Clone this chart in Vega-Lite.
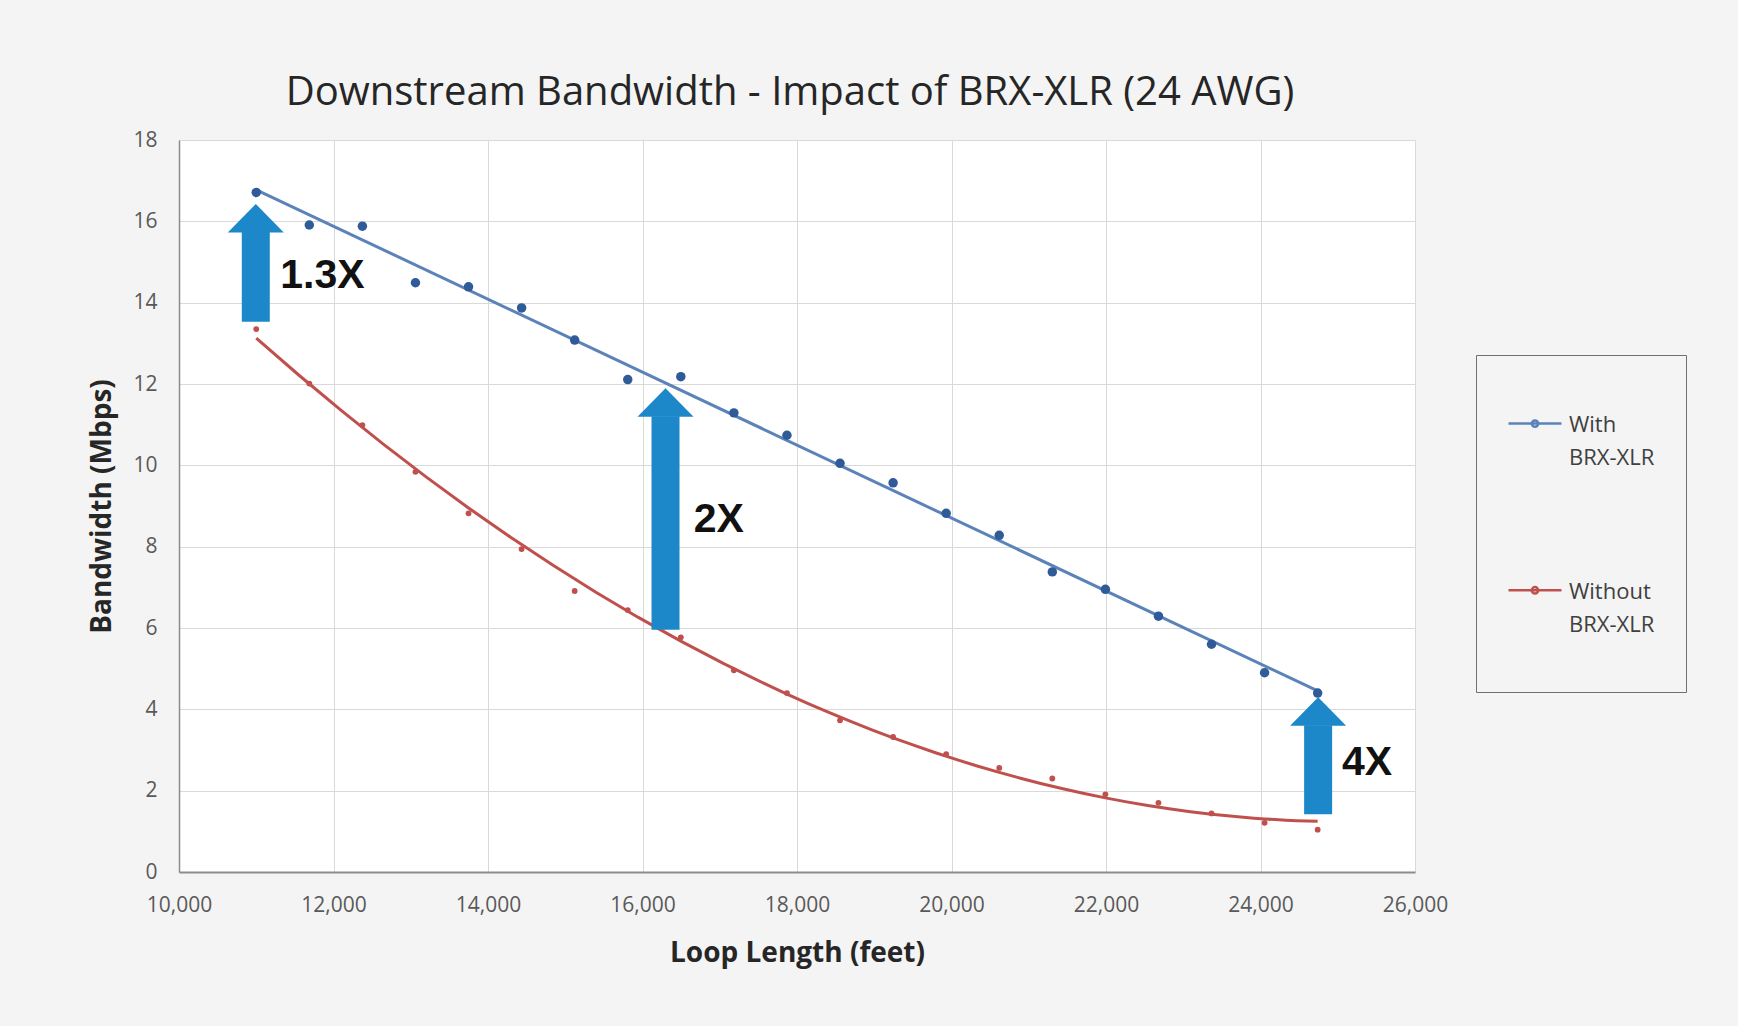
{
  "$schema": "https://vega.github.io/schema/vega-lite/v6.json",
  "width": 1236,
  "height": 732,
  "autosize": {"type": "none"},
  "padding": {"left": 179, "top": 140, "right": 323, "bottom": 154},
  "background": "#f4f4f4",
  "title": {
    "text": "Downstream Bandwidth - Impact of BRX-XLR (24 AWG)",
    "font": "Open Sans",
    "fontSize": 40,
    "fontWeight": "normal",
    "color": "#262626",
    "anchor": "middle",
    "offset": 16,
    "dx": -7
  },
  "config": {
    "view": {"fill": "#ffffff", "stroke": null},
    "font": "Open Sans",
    "axis": {
      "grid": true,
      "gridColor": "#d9d9d9",
      "gridWidth": 1,
      "ticks": false,
      "labelFlush": false,
      "domainColor": "#8c8c8c",
      "labelFont": "Open Sans",
      "labelFontSize": 21,
      "labelColor": "#595959",
      "titleFont": "Open Sans",
      "titleFontSize": 28,
      "titleFontWeight": "bold",
      "titleColor": "#262626"
    },
    "legend": {
      "orient": "none",
      "legendX": 1297,
      "legendY": 215,
      "padding": 31,
      "strokeColor": "#707070",
      "symbolType": "M-1,-0.62H1M0.12,-0.62A0.12,0.12,0,1,1,-0.12,-0.62A0.12,0.12,0,1,1,0.12,-0.62",
      "symbolSize": 2809,
      "symbolStrokeWidth": 2.5,
      "labelFont": "Open Sans",
      "labelFontSize": 22,
      "labelColor": "#404040",
      "labelOffset": 6,
      "labelLimit": 300,
      "clipHeight": 108,
      "rowPadding": 58.7
    }
  },
  "datasets": {
    "points": [
      {"series": "With BRX-XLR", "len": 11000, "bw": 16.71},
      {"series": "With BRX-XLR", "len": 11687, "bw": 15.91},
      {"series": "With BRX-XLR", "len": 12374, "bw": 15.88},
      {"series": "With BRX-XLR", "len": 13061, "bw": 14.49},
      {"series": "With BRX-XLR", "len": 13748, "bw": 14.39},
      {"series": "With BRX-XLR", "len": 14435, "bw": 13.87},
      {"series": "With BRX-XLR", "len": 15122, "bw": 13.08},
      {"series": "With BRX-XLR", "len": 15809, "bw": 12.11},
      {"series": "With BRX-XLR", "len": 16496, "bw": 12.18},
      {"series": "With BRX-XLR", "len": 17183, "bw": 11.29},
      {"series": "With BRX-XLR", "len": 17870, "bw": 10.74},
      {"series": "With BRX-XLR", "len": 18557, "bw": 10.05},
      {"series": "With BRX-XLR", "len": 19244, "bw": 9.57},
      {"series": "With BRX-XLR", "len": 19931, "bw": 8.82},
      {"series": "With BRX-XLR", "len": 20618, "bw": 8.28},
      {"series": "With BRX-XLR", "len": 21305, "bw": 7.38},
      {"series": "With BRX-XLR", "len": 21992, "bw": 6.95},
      {"series": "With BRX-XLR", "len": 22679, "bw": 6.29},
      {"series": "With BRX-XLR", "len": 23366, "bw": 5.6},
      {"series": "With BRX-XLR", "len": 24053, "bw": 4.9},
      {"series": "With BRX-XLR", "len": 24740, "bw": 4.4},
      {"series": "Without BRX-XLR", "len": 11000, "bw": 13.35},
      {"series": "Without BRX-XLR", "len": 11687, "bw": 12.01},
      {"series": "Without BRX-XLR", "len": 12374, "bw": 10.99},
      {"series": "Without BRX-XLR", "len": 13061, "bw": 9.84},
      {"series": "Without BRX-XLR", "len": 13748, "bw": 8.82},
      {"series": "Without BRX-XLR", "len": 14435, "bw": 7.94},
      {"series": "Without BRX-XLR", "len": 15122, "bw": 6.91},
      {"series": "Without BRX-XLR", "len": 15809, "bw": 6.44},
      {"series": "Without BRX-XLR", "len": 16496, "bw": 5.77},
      {"series": "Without BRX-XLR", "len": 17183, "bw": 4.96},
      {"series": "Without BRX-XLR", "len": 17870, "bw": 4.4},
      {"series": "Without BRX-XLR", "len": 18557, "bw": 3.73},
      {"series": "Without BRX-XLR", "len": 19244, "bw": 3.32},
      {"series": "Without BRX-XLR", "len": 19931, "bw": 2.9},
      {"series": "Without BRX-XLR", "len": 20618, "bw": 2.56},
      {"series": "Without BRX-XLR", "len": 21305, "bw": 2.3},
      {"series": "Without BRX-XLR", "len": 21992, "bw": 1.91},
      {"series": "Without BRX-XLR", "len": 22679, "bw": 1.7},
      {"series": "Without BRX-XLR", "len": 23366, "bw": 1.44},
      {"series": "Without BRX-XLR", "len": 24053, "bw": 1.21},
      {"series": "Without BRX-XLR", "len": 24740, "bw": 1.04}
    ],
    "arrows": [
      {"len": 10994, "bw": 15.74, "bw0": 13.53},
      {"len": 16298, "bw": 11.21, "bw0": 5.96},
      {"len": 24746, "bw": 3.61, "bw0": 1.42}
    ],
    "labels": [
      {"len": 11311, "bw": 14.65, "label": "1.3X"},
      {"len": 16664, "bw": 8.65, "label": "2X"},
      {"len": 25055, "bw": 2.67, "label": "4X"}
    ]
  },
  "encoding": {
    "x": {
      "field": "len",
      "type": "quantitative",
      "scale": {"domain": [10000, 26000], "nice": false, "zero": false},
      "axis": {
        "title": "Loop Length (feet)",
        "values": [10000, 12000, 14000, 16000, 18000, 20000, 22000, 24000, 26000],
        "format": ",d",
        "labelPadding": 22,
        "domainWidth": 2,
        "titlePadding": 24
      }
    },
    "y": {
      "field": "bw",
      "type": "quantitative",
      "scale": {"domain": [0, 18], "nice": false},
      "axis": {
        "title": "Bandwidth (Mbps)",
        "values": [0, 2, 4, 6, 8, 10, 12, 14, 16, 18],
        "labelPadding": 22,
        "domainWidth": 1.5,
        "titlePadding": 16
      }
    }
  },
  "layer": [
    {
      "data": {"name": "points"},
      "transform": [
        {"filter": "datum.series == 'With BRX-XLR'"},
        {"regression": "bw", "on": "len", "method": "linear", "groupby": ["series"]}
      ],
      "mark": {"type": "line", "strokeWidth": 3},
      "encoding": {
        "color": {
          "field": "series",
          "type": "nominal",
          "scale": {"domain": ["With BRX-XLR", "Without BRX-XLR"], "range": ["#5b82b9", "#c0504d"]},
          "legend": {
            "title": null,
            "labelExpr": "split(datum.label, ' ')",
            "encode": {"labels": {"update": {"lineHeight": {"value": 33}, "dy": {"value": -15}}}}
          }
        }
      }
    },
    {
      "data": {"name": "points"},
      "transform": [
        {"filter": "datum.series == 'Without BRX-XLR'"},
        {"regression": "bw", "on": "len", "method": "poly", "order": 2, "groupby": ["series"]}
      ],
      "mark": {"type": "line", "strokeWidth": 3},
      "encoding": {
        "color": {
          "field": "series",
          "type": "nominal",
          "scale": {"domain": ["With BRX-XLR", "Without BRX-XLR"], "range": ["#5b82b9", "#c0504d"]},
          "legend": {
            "title": null,
            "labelExpr": "split(datum.label, ' ')",
            "encode": {"labels": {"update": {"lineHeight": {"value": 33}, "dy": {"value": -15}}}}
          }
        }
      }
    },
    {
      "data": {"name": "points"},
      "transform": [{"filter": "datum.series == 'With BRX-XLR'"}],
      "mark": {"type": "point", "shape": "circle", "filled": true, "size": 90, "color": "#2f5b99", "opacity": 1}
    },
    {
      "data": {"name": "points"},
      "transform": [{"filter": "datum.series == 'Without BRX-XLR'"}],
      "mark": {"type": "point", "shape": "circle", "filled": true, "size": 34, "color": "#c0504d", "opacity": 1}
    },
    {
      "data": {"name": "arrows"},
      "mark": {"type": "rule", "strokeWidth": 28, "strokeCap": "butt", "color": "#1c87c9"},
      "encoding": {"y2": {"field": "bw0"}}
    },
    {
      "data": {"name": "arrows"},
      "mark": {"type": "point", "shape": "M-1,0.02L0,-1L1,0.02Z", "size": 3136, "filled": true, "color": "#1c87c9", "opacity": 1, "strokeWidth": 0}
    },
    {
      "data": {"name": "labels"},
      "mark": {"type": "text", "align": "left", "baseline": "middle", "font": "Liberation Sans", "fontWeight": "bold", "fontSize": 41, "color": "#111111"},
      "encoding": {"text": {"field": "label"}}
    }
  ]
}
